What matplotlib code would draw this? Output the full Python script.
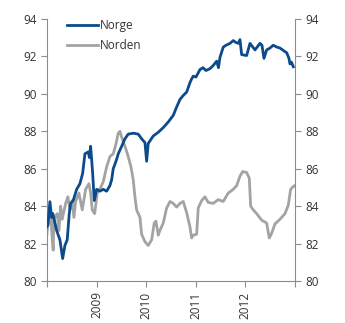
import matplotlib
matplotlib.use("Agg")
import matplotlib.pyplot as plt

# time in fractional years, index values
t_norge = [2008.00, 2008.02, 2008.06, 2008.095, 2008.12, 2008.196, 2008.262, 2008.317,
           2008.363, 2008.409, 2008.45, 2008.478, 2008.53, 2008.599, 2008.665, 2008.72,
           2008.766, 2008.833, 2008.857, 2008.881, 2008.901, 2008.921, 2008.954, 2009.002,
           2009.069, 2009.135, 2009.204, 2009.27, 2009.304, 2009.337, 2009.405, 2009.438,
           2009.506, 2009.573, 2009.639, 2009.74, 2009.841, 2009.909, 2009.976, 2010.01,
           2010.042, 2010.143, 2010.244, 2010.345, 2010.446, 2010.546, 2010.615, 2010.681,
           2010.742, 2010.817, 2010.883, 2010.917, 2010.95, 2011.004, 2011.085, 2011.145,
           2011.206, 2011.286, 2011.347, 2011.421, 2011.458, 2011.488, 2011.554, 2011.609,
           2011.69, 2011.756, 2011.81, 2011.857, 2011.891, 2011.925, 2012.026, 2012.093,
           2012.194, 2012.294, 2012.335, 2012.375, 2012.429, 2012.496, 2012.562, 2012.637,
           2012.698, 2012.778, 2012.833, 2012.879, 2012.899, 2012.929, 2012.966]
norge = [82.9, 83.0, 84.24, 83.4, 83.6, 82.7, 82.2, 81.2,
         81.9, 82.2, 83.6, 84.15, 84.3, 84.9, 85.2, 85.75,
         86.8, 86.9, 86.6, 87.2, 86.5, 85.8, 84.3, 84.9,
         84.8, 84.9, 84.8, 85.1, 85.4, 86.0, 86.5, 86.8,
         87.2, 87.6, 87.85, 87.9, 87.85, 87.6, 87.4, 86.4,
         87.35, 87.75, 87.95, 88.2, 88.5, 88.85, 89.3, 89.7,
         89.9, 90.1, 90.6, 90.8, 90.95, 90.9, 91.3, 91.4,
         91.25, 91.35, 91.5, 91.75, 91.4, 91.95, 92.5, 92.6,
         92.7, 92.85, 92.75, 92.7, 92.9, 92.1, 92.05, 92.7,
         92.35, 92.7, 92.6, 91.9, 92.35, 92.45, 92.6, 92.5,
         92.45, 92.3, 92.2, 91.9, 91.6, 91.7, 91.45]

t_norden = [2008.00, 2008.006, 2008.04, 2008.075, 2008.107, 2008.127, 2008.141, 2008.208,
            2008.242, 2008.276, 2008.308, 2008.377, 2008.423, 2008.464, 2008.51, 2008.544,
            2008.579, 2008.645, 2008.712, 2008.78, 2008.847, 2008.881, 2008.913, 2008.962,
            2009.014, 2009.083, 2009.135, 2009.204, 2009.27, 2009.337, 2009.385, 2009.438,
            2009.472, 2009.506, 2009.573, 2009.639, 2009.694, 2009.74, 2009.774, 2009.808,
            2009.875, 2009.909, 2009.976, 2010.042, 2010.111, 2010.163, 2010.198, 2010.244,
            2010.278, 2010.345, 2010.413, 2010.48, 2010.546, 2010.615, 2010.681, 2010.748,
            2010.817, 2010.883, 2010.917, 2010.95, 2011.018, 2011.05, 2011.119, 2011.185,
            2011.252, 2011.353, 2011.454, 2011.554, 2011.655, 2011.756, 2011.825, 2011.891,
            2011.946, 2012.026, 2012.079, 2012.107, 2012.159, 2012.228, 2012.329, 2012.429,
            2012.482, 2012.53, 2012.597, 2012.698, 2012.798, 2012.865, 2012.913, 2012.966,
            2012.995]
norden = [82.5, 82.7, 83.3, 83.6, 82.2, 81.65, 83.3, 83.6,
          82.7, 84.0, 83.3, 84.15, 84.5, 83.8, 84.3, 83.4,
          84.25, 84.7, 83.8, 84.9, 85.2, 84.7, 83.8, 83.6,
          84.7, 85.0, 85.3, 86.1, 86.65, 86.8, 87.25, 87.9,
          88.0, 87.7, 87.2, 86.65, 86.1, 85.4, 84.5, 83.8,
          83.4, 82.5, 82.1, 81.9, 82.2, 83.1, 83.2, 82.45,
          82.7, 83.1, 83.9, 84.25, 84.15, 83.95, 84.15, 84.25,
          83.65, 82.9, 82.3, 82.45, 82.5, 83.9, 84.3, 84.5,
          84.2, 84.15, 84.35, 84.25, 84.7, 84.9, 85.1, 85.6,
          85.85, 85.8, 85.5, 84.0, 83.8, 83.6, 83.25, 83.1,
          82.3, 82.55, 83.05, 83.3, 83.6, 84.05, 84.9, 85.05,
          85.1]

years = [2008, 2009, 2010, 2011, 2012, 2013]
year_labels = ["", "2009", "2010", "2011", "2012", ""]
yticks = [80, 82, 84, 86, 88, 90, 92, 94]

plt.rcParams['font.family'] = ['Open Sans', 'DejaVu Sans']
spine_col = '#8c8c8c'
text_col = '#333333'

fig = plt.figure(figsize=(3.45, 3.23), dpi=100)
ax = fig.add_axes([0.136, 0.130, 0.719, 0.811])

ax.plot(t_norge, norge, color='#0b4a8b', lw=2.0, label='Norge', zorder=3)
ax.plot(t_norden, norden, color='#a3a3a3', lw=2.0, label='Norden', zorder=2)

ax.set_xlim(2008, 2013)
ax.set_ylim(80, 94)
ax.set_xticks(years)
ax.set_xticklabels(year_labels, rotation=90, fontsize=8.5, color=text_col)
ax.set_yticks(yticks)
ax.tick_params(axis='y', which='both', left=True, right=True, labelleft=True,
               labelright=True, labelsize=8.5, labelcolor=text_col,
               color=spine_col, length=4, width=0.8, direction='out')
ax.tick_params(axis='x', color=spine_col, length=4, width=0.8, direction='out')

ax.spines['top'].set_visible(False)
for side in ['left', 'right', 'bottom']:
    ax.spines[side].set_color(spine_col)
    ax.spines[side].set_linewidth(0.8)

leg = ax.legend(loc='upper left', bbox_to_anchor=(0.06, 1.017), frameon=False,
                fontsize=8.5, handlelength=2.7, handletextpad=0.1,
                labelspacing=0.6, borderaxespad=0)
for txt in leg.get_texts():
    txt.set_color(text_col)

fig.savefig('out.png', dpi=100)
